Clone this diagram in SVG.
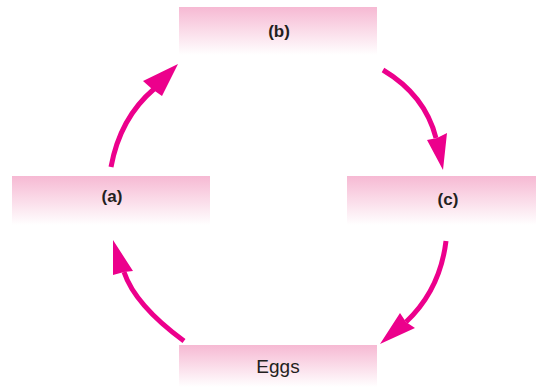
<svg xmlns="http://www.w3.org/2000/svg" width="536" height="387" viewBox="0 0 536 387">
  <defs>
    <linearGradient id="boxFill" x1="0" y1="0" x2="0" y2="1">
      <stop offset="0" stop-color="#f6b9d3"/>
      <stop offset="1" stop-color="#ffffff"/>
    </linearGradient>
    <style>
      .box { fill: url(#boxFill); }
      .lbl { font-family: "Liberation Sans", Arial, sans-serif; font-size: 17px; font-weight: bold; fill: #231f20; text-anchor: middle; }
      .eggs { font-family: "Liberation Sans", Arial, sans-serif; font-size: 19px; fill: #231f20; text-anchor: middle; }
      .shaft { fill: none; stroke: #ec008c; stroke-width: 5; stroke-linecap: butt; }
      .head { fill: #ec008c; }
    </style>
  </defs>
  <rect width="536" height="387" fill="#ffffff"/>

  <g id="node-b">
    <rect class="box" x="179" y="7" width="198" height="48"/>
    <text class="lbl" x="279" y="37">(b)</text>
  </g>
  <g id="node-a">
    <rect class="box" x="12" y="176" width="198" height="49"/>
    <text class="lbl" x="112" y="202">(a)</text>
  </g>
  <g id="node-c">
    <rect class="box" x="347" y="176" width="189" height="49"/>
    <text class="lbl" x="448" y="205">(c)</text>
  </g>
  <g id="node-eggs">
    <rect class="box" x="179" y="345" width="198" height="42"/>
    <text class="eggs" x="278" y="373">Eggs</text>
  </g>

  <g id="connectors">
    <!-- (a) to (b) -->
    <path class="shaft" d="M111,167 Q120,118 154,89"/>
    <polygon class="head" points="178,64 143,81 152,89 162,96"/>
    <!-- (b) to (c) -->
    <path class="shaft" d="M383,70 Q425,95 436,138"/>
    <polygon class="head" points="443,170 427,140 437,138 447,133"/>
    <!-- (c) to Eggs -->
    <path class="shaft" d="M446,241 Q440,290 406,322"/>
    <polygon class="head" points="380,344 400,313 406,322 415,328"/>
    <!-- Eggs to (a) -->
    <path class="shaft" d="M184,341 Q135,305 124,272"/>
    <polygon class="head" points="113,240 113,275 124,272 133,271"/>
  </g>
</svg>
